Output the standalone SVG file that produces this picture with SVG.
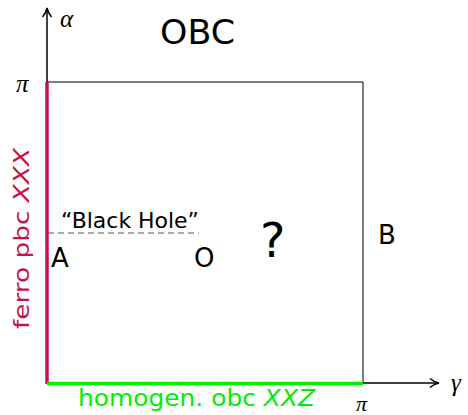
<svg xmlns="http://www.w3.org/2000/svg" width="468" height="415" viewBox="0 0 468 415">
<style>
text{font-family:"DejaVu Sans","Liberation Sans",sans-serif;fill:#000}
.m{font-family:"Liberation Serif",serif;font-style:italic}
.ax{stroke:#000;stroke-width:1.5;fill:none}
.pt{font-size:26px}
</style>
<defs>
<marker id="ar" markerWidth="12" markerHeight="12" refX="9" refY="6" orient="auto" markerUnits="userSpaceOnUse">
<path d="M1,1.5 Q5,5 10,6 Q5,7 1,10.5" fill="none" stroke="#000" stroke-width="1.5"/>
</marker>
</defs>
<g id="connectors">
<line class="ax" x1="47" y1="383" x2="47" y2="9" marker-end="url(#ar)"/>
<line class="ax" x1="363" y1="383" x2="438" y2="383" marker-end="url(#ar)"/>
<path d="M47,82 H363 V383" fill="none" stroke="#000" stroke-width="1"/>
<line x1="48" y1="233" x2="199" y2="233" stroke="#555" stroke-width="1" stroke-dasharray="6,4"/>
<line id="ferro" x1="47" y1="82" x2="47" y2="384" stroke="#c8104a" stroke-width="3.5"/>
<line id="homogen" x1="47" y1="383.5" x2="363" y2="383.5" stroke="#00ee00" stroke-width="3.5"/>
</g>
<g id="labels">
<text class="m" x="60" y="27" font-size="25">α</text>
<text x="160" y="44" font-size="33" textLength="75" lengthAdjust="spacingAndGlyphs">OBC</text>
<text class="m" x="16" y="92" font-size="25">π</text>
<text class="m" x="356" y="411" font-size="22">π</text>
<text class="m" x="451" y="391" font-size="25">γ</text>
<text x="61" y="228" font-size="21" textLength="138" lengthAdjust="spacingAndGlyphs">“Black Hole”</text>
<text class="pt" x="51" y="267">A</text>
<text class="pt" x="194" y="267">O</text>
<text x="260" y="257" font-size="48">?</text>
<text class="pt" x="378" y="244">B</text>
<text transform="translate(29,329) rotate(-90)" font-size="22" style="fill:#c8104a" textLength="181" lengthAdjust="spacingAndGlyphs">ferro pbc <tspan font-style="italic">XXX</tspan></text>
<text x="78" y="406" font-size="23" style="fill:#00ee00" textLength="237" lengthAdjust="spacingAndGlyphs">homogen. obc <tspan font-style="italic">XXZ</tspan></text>
</g>
</svg>
